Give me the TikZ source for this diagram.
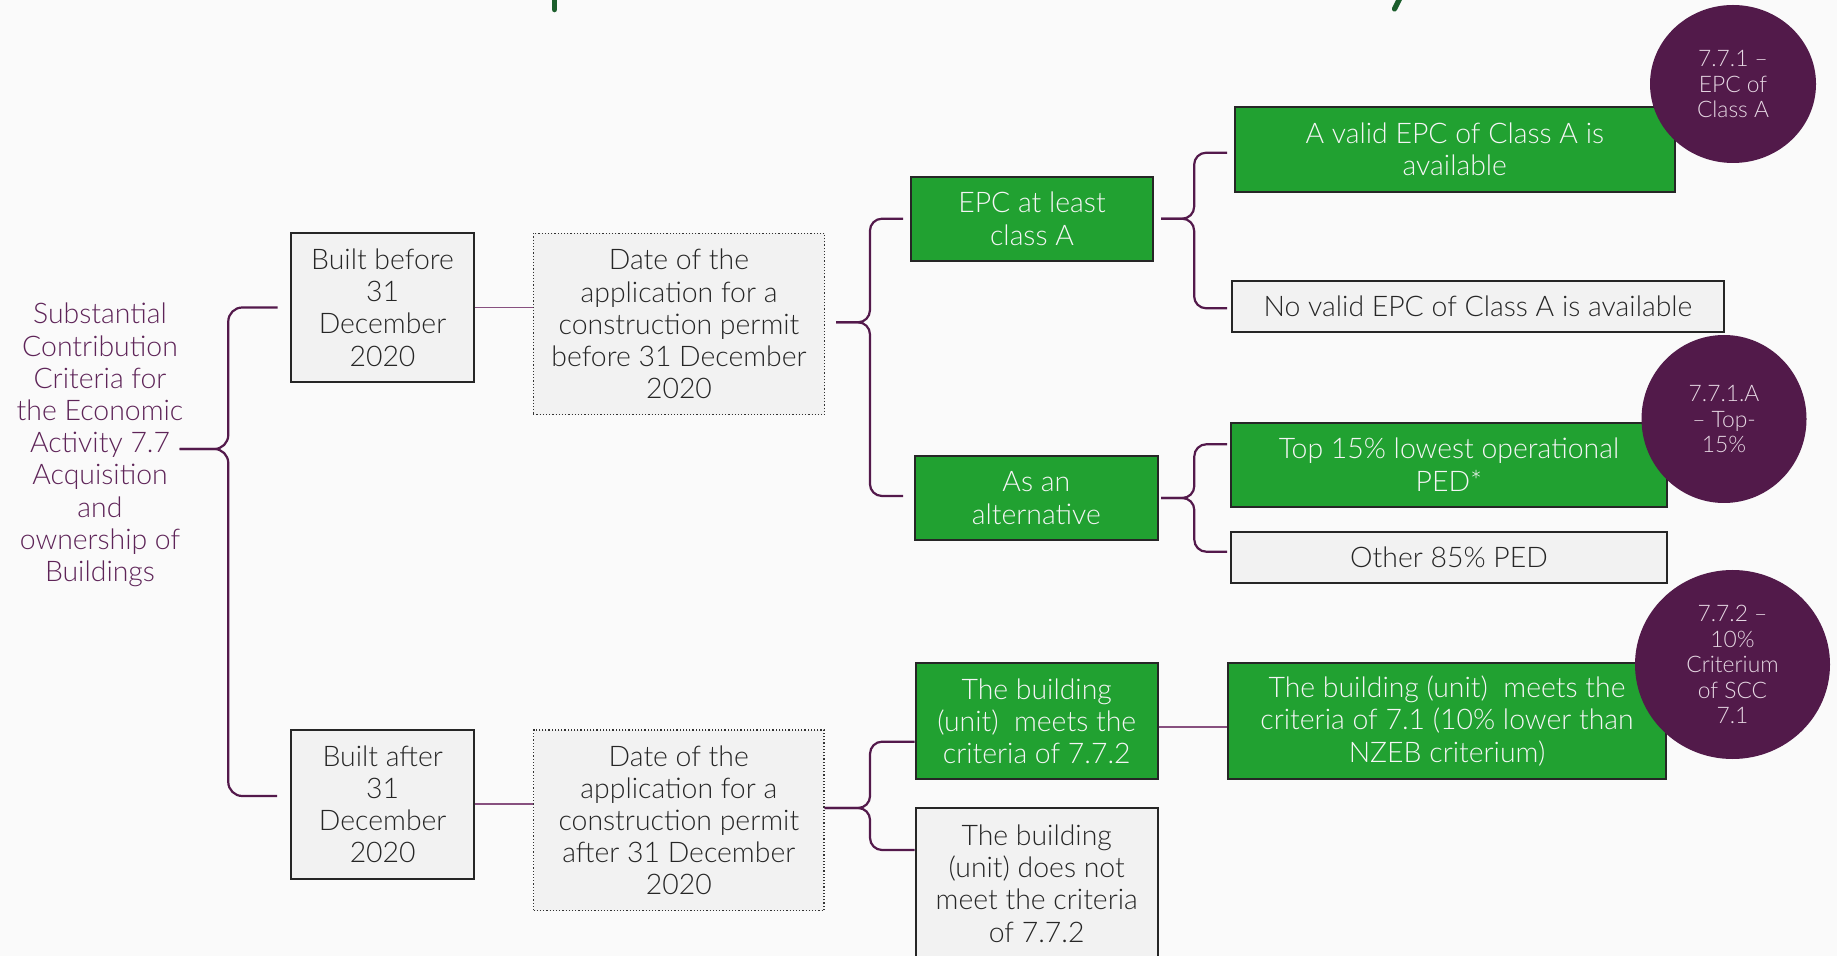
\documentclass[tikz,border=0pt]{standalone}
\usepackage{fontspec}
\setmainfont{Lato}[UprightFont={* Light}]
\usetikzlibrary{shapes.geometric}
\definecolor{epcgreen}{HTML}{21A131}
\definecolor{boxgray}{HTML}{F2F2F2}
\definecolor{plum}{HTML}{521A4A}
\definecolor{braceplum}{HTML}{53194B}
\definecolor{linkplum}{HTML}{87507F}
\definecolor{textplum}{HTML}{5E2458}
\definecolor{badgetext}{HTML}{E6D8E3}
\definecolor{titlegreen}{HTML}{1B5E2C}
\definecolor{pagebg}{HTML}{FAFAFA}

\begin{document}
\begin{tikzpicture}[x=0.5pt, y=-0.5pt,
  txt/.style = {font=\fontsize{14.2}{16.1}\selectfont, align=center, inner sep=0pt},
  box/.style = {txt, draw=black!85, line width=1pt, fill=boxgray, text=black!85},
  date/.style = {txt, draw=black!80, densely dotted, line width=0.6pt, fill=boxgray, text=black!85},
  good/.style = {txt, draw=black!85, line width=1pt, fill=epcgreen, text=white!96!black},
  badge/.style = {ellipse, fill=plum, text=badgetext, inner sep=0pt, align=center,
    font=\fontsize{11.4}{12.75}\selectfont},
  brc/.style = {draw=braceplum, line width=1.1pt, rounded corners=6pt},
  link/.style = {draw=linkplum, line width=0.9pt}]
\useasboundingbox (0,0) rectangle (1837,956);
\fill[pagebg] (0,0) rectangle (1837,956);

\draw[titlegreen, line width=2.8pt, line cap=round] (554.5,-10) -- (554.5,9.5);
\draw[titlegreen, line width=2.6pt, line cap=round] (1402,-6) -- (1394.5,9);

\node[txt, text=textplum] (1) at (100,445) {Substantial\\Contribution\\Criteria for\\the Economic\\Activity 7.7\\Acquisition\\and\\ownership of\\Buildings};

\node[box, minimum width=91.5pt, minimum height=74.5pt] (2) at (382.5,307.5) {Built before\\31\\December\\2020};
\node[date, minimum width=145.75pt, minimum height=90.85pt] (3) at (679,324) {Date of the\\application for a\\construction permit\\before 31 December\\2020};
\node[good, minimum width=121.15pt, minimum height=42pt] (4) at (1032,218.7) {EPC at least\\class A};
\node[good, minimum width=121.3pt, minimum height=42.15pt] (5) at (1036.3,498) {As an\\alternative};
\node[good, minimum width=219.75pt, minimum height=42.35pt] (6) at (1454.8,149.3) {A valid EPC of Class A is\\available};
\node[box, minimum width=245.85pt, minimum height=25.8pt] (7) at (1478,306.5) {No valid EPC of Class A is available};
\node[good, minimum width=218pt, minimum height=42pt] (8) at (1449,464.7) {Top 15\% lowest operational\\PED*};
\node[box, minimum width=218pt, minimum height=25.8pt] (9) at (1449,557.5) {Other 85\% PED};

\node[box, minimum width=91.25pt, minimum height=74.35pt] (10) at (382.7,804.3) {Built after\\31\\December\\2020};
\node[date, minimum width=145.25pt, minimum height=90.35pt] (11) at (678.8,820.3) {Date of the\\application for a\\construction permit\\after 31 December\\2020};
\node[good, minimum width=121pt, minimum height=58.3pt] (12) at (1036.7,721) {The building\\(unit) \ meets the\\criteria of 7.7.2};
\node[box, minimum width=121pt, minimum height=75.2pt] (13) at (1036.7,883.5) {The building\\(unit) does not\\meet the criteria\\of 7.7.2};
\node[good, minimum width=219pt, minimum height=58.15pt] (14) at (1447,721) {The building (unit) \ meets the\\criteria of 7.1 (10\% lower than\\NZEB criterium)};

\node[badge, minimum width=83pt, minimum height=79pt] (15) at (1733,84) {7.7.1 –\\EPC of\\Class A};
\node[badge, minimum width=82.5pt, minimum height=84pt] (16) at (1724,419) {7.7.1.A\\– Top-\\15\%};
\node[badge, minimum width=97.5pt, minimum height=94.5pt] (17) at (1732.5,664.5) {7.7.2 –\\10\%\\Criterium\\of SCC\\7.1};

\draw[link] (2.east) -- (2.east -| 3.west);
\draw[link] (10.east) -- (10.east -| 11.west);
\draw[link] ([yshift=-3pt]12.east) -- ([yshift=-3pt]14.west);

\draw[brc, rounded corners=7pt] ([xshift=-2pt, yshift=-2pt]1.east) -- ++(24.3pt,0) |- ([xshift=-6.2pt]2.west);
\draw[brc, rounded corners=7pt] ([xshift=-2pt, yshift=-2pt]1.east) -- ++(24.3pt,0) |- ([xshift=-6.7pt, yshift=4.15pt]10.west);

\draw[brc] ([xshift=5.35pt, yshift=0.85pt]3.east) -- ++(16.95pt,0) |- ([xshift=-3.35pt]4.west);
\draw[brc] ([xshift=5.35pt, yshift=0.85pt]3.east) -- ++(16.95pt,0) |- ([xshift=-5.5pt, yshift=1pt]5.west);

\draw[brc] ([xshift=3.5pt]4.east) -- ++(16.5pt,0) |- ([xshift=-3.5pt, yshift=-1.7pt]6.west);
\draw[brc] ([xshift=3.5pt]4.east) -- ++(16.5pt,0) |- ([xshift=-2pt, yshift=-0.9pt]7.west);

\draw[brc] ([xshift=1.2pt]5.east) -- ++(16.65pt,0) |- ([xshift=-1.5pt, yshift=10.2pt]8.west);
\draw[brc] ([xshift=1.2pt]5.east) -- ++(16.65pt,0) |- ([xshift=-1.5pt, yshift=2.9pt]9.west);

\draw[brc] ([yshift=6.15pt]11.east) -- ++(22.7pt,0) |- ([yshift=-10.35pt]12.west);
\draw[brc] ([yshift=6.15pt]11.east) -- ++(22.7pt,0) |- ([yshift=16.75pt]13.west);

\end{tikzpicture}
\end{document}
